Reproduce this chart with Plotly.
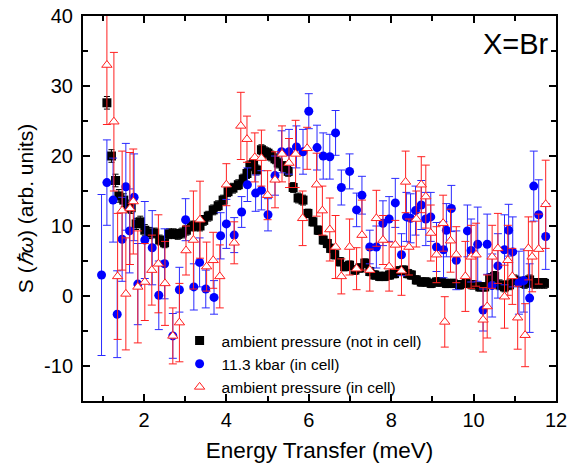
import plotly.graph_objects as go

# ambient pressure (not in cell) - black squares
energy_black = [1.10, 1.21, 1.31, 1.39, 1.51, 1.61, 1.69, 1.81, 1.91, 2.02, 2.14, 2.26, 2.38, 2.50,
                2.61, 2.72, 2.82, 2.93, 3.03, 3.15, 3.25, 3.36, 3.45, 3.56, 3.68, 3.80, 3.92, 4.04,
                4.16, 4.29, 4.41, 4.50, 4.57, 4.66, 4.73, 4.85, 4.93, 5.01, 5.09, 5.18, 5.26, 5.38,
                5.50, 5.62, 5.74, 5.86, 5.98, 6.10, 6.23, 6.35, 6.45, 6.53, 6.63, 6.75, 6.87, 6.99,
                7.12, 7.24, 7.36, 7.48, 7.60, 7.72, 7.84, 7.96, 8.08, 8.20, 8.30, 8.40, 8.49, 8.61,
                8.73, 8.85, 8.97, 9.10, 9.22, 9.34, 9.50, 9.66, 9.82, 9.98, 10.15, 10.27, 10.39,
                10.51, 10.63, 10.75, 10.87, 10.99, 11.12, 11.24, 11.36, 11.48, 11.60, 11.72]
s_black = [27.6, 20.0, 16.5, 14.3, 13.7, 12.8, 12.6, 10.3, 10.6, 9.4, 9.0, 9.0, 8.0, 7.6,
           8.9, 8.9, 8.8, 9.0, 9.4, 10.0, 10.0, 10.0, 10.8, 11.4, 12.3, 12.9, 13.7, 14.9,
           15.4, 15.9, 16.7, 17.5, 18.6, 19.0, 18.0, 20.9, 20.6, 20.4, 20.0, 19.6, 19.0, 18.5,
           17.8, 15.5, 14.0, 13.7, 11.8, 10.6, 9.4, 8.0, 7.5, 6.8, 5.9, 4.9, 4.2, 4.4,
           3.7, 4.0, 4.7, 3.5, 3.0, 2.8, 2.8, 3.0, 3.2, 3.6, 3.7, 3.2, 3.0, 2.3,
           2.0, 2.0, 1.8, 2.0, 2.0, 1.8, 1.8, 1.6, 1.8, 1.6, 1.3, 1.3, 2.5,
           2.8, 1.6, 1.3, 1.6, 2.3, 2.0, 1.8, 2.3, 1.8, 1.8, 1.8]
err_black = [0.9, 0.9, 0.9, 0.9, 0.9, 0.9, 0.8, 0.8, 0.8, 0.8, 0.8, 0.7, 0.7, 0.7,
             0.7, 0.7, 0.7, 0.7, 0.7, 0.7, 0.7, 0.7, 0.7, 0.7, 0.7, 0.7, 0.7, 0.7,
             0.7, 0.7, 0.7, 0.7, 0.7, 0.7, 0.7, 0.7, 0.7, 0.7, 0.7, 0.7, 0.7, 0.7,
             0.7, 0.7, 0.7, 0.7, 0.6, 0.6, 0.6, 0.6, 0.6, 0.6, 0.6, 0.6, 0.6, 0.6,
             0.6, 0.6, 0.6, 0.6, 0.6, 0.6, 0.6, 0.6, 0.6, 0.6, 0.6, 0.6, 0.6, 0.6,
             0.6, 0.6, 0.6, 0.6, 0.6, 0.6, 0.6, 0.6, 0.6, 0.6, 0.6, 0.6, 0.7,
             0.7, 0.7, 0.7, 0.7, 0.7, 0.7, 0.7, 0.7, 0.7, 0.7, 0.7]

# 11.3 kbar (in cell) - blue circles
energy_blue = [0.97, 1.10, 1.25, 1.35, 1.47, 1.56, 1.65, 1.76, 1.85, 2.02, 2.20, 2.36, 2.50, 2.70,
               2.86, 3.01, 3.21, 3.35, 3.50, 3.70, 3.86, 4.00, 4.19, 4.37, 4.51, 4.71, 4.85, 5.01,
               5.18, 5.34, 5.52, 5.70, 5.86, 6.00, 6.20, 6.35, 6.51, 6.65, 6.79, 6.99, 7.16, 7.29,
               7.48, 7.64, 7.80, 7.95, 8.10, 8.25, 8.37, 8.47, 8.59, 8.73, 8.84, 8.96, 9.10, 9.27,
               9.34, 9.46, 9.58, 9.85, 9.94, 10.10, 10.23, 10.33, 10.45, 10.59, 10.75, 10.85, 10.95,
               11.10, 11.22, 11.36, 11.46, 11.58, 11.75]
s_blue = [3.0, 16.2, 13.7, -2.6, 8.1, 15.6, 9.3, 14.1, 1.7, 8.0, 6.9, 0.1, 4.6, -5.7,
          0.9, 10.9, 1.3, 4.8, 1.0, -0.2, 8.6, 10.3, 8.7, 12.0, 15.9, 14.7, 15.1, 11.6,
          17.2, 20.6, 20.6, 21.3, 20.6, 26.4, 21.2, 20.0, 19.9, 23.3, 15.5, 17.8, 12.3, 14.4,
          7.0, 7.0, 10.4, 11.0, 13.3, 5.9, 11.3, 11.1, 12.2, 13.0, 11.0, 11.3, 7.0, 6.6,
          9.4, 12.5, 5.1, 9.3, 6.5, 7.4, -2.0, 7.4, 1.5, 4.3, 6.6, 9.4, 6.3,
          1.9, 2.2, -0.3, 15.7, 11.6, 8.5]
err_blue = [11.5, 6.1, 6.0, 6.2, 6.0, 6.2, 6.0, 6.2, 5.8, 5.5, 5.3, 4.9, 5.0, 3.2,
            3.2, 3.0, 3.3, 3.5, 2.7, 2.4, 3.3, 3.5, 2.5, 2.2, 2.4, 2.6, 2.8, 2.3,
            2.8, 3.0, 3.2, 3.0, 3.2, 2.5, 3.2, 3.3, 3.2, 3.2, 2.5, 2.5, 2.4, 2.7,
            2.4, 3.0, 3.2, 3.2, 3.5, 3.0, 3.5, 3.5, 3.5, 3.5, 3.8, 3.5, 3.5, 4.0,
            3.8, 3.3, 4.2, 3.7, 4.5, 5.3, 3.0, 4.3, 4.5, 4.6, 5.0, 3.7, 5.0,
            4.5, 4.5, 4.9, 5.0, 5.0, 4.7]

# ambient pressure (in cell) - red open triangles
energy_red = [1.10, 1.27, 1.36, 1.47, 1.56, 1.66, 1.74, 1.85, 2.02, 2.19, 2.35, 2.51, 2.70, 2.86,
              3.02, 3.20, 3.36, 3.52, 3.68, 3.84, 4.00, 4.19, 4.35, 4.50, 4.69, 4.85, 5.00, 5.18,
              5.35, 5.52, 5.68, 5.85, 5.96, 6.19, 6.33, 6.51, 6.65, 6.79, 6.99, 7.16, 7.29, 7.48,
              7.64, 7.80, 7.95, 8.10, 8.25, 8.35, 8.43, 8.61, 8.73, 8.84, 8.96, 9.10, 9.26, 9.30,
              9.44, 9.58, 9.80, 9.94, 10.06, 10.23, 10.33, 10.45, 10.59, 10.75, 10.83, 10.94,
              11.07, 11.25, 11.33, 11.42, 11.58, 11.75]
s_red = [33.0, 24.9, 2.8, 12.2, 0.3, 12.5, 13.5, 1.3, 2.0, 3.7, 4.6, 1.8, -5.7, -3.8,
         6.5, 8.0, 10.9, 4.2, 5.1, 2.8, 15.9, 7.6, 24.3, 22.4, 19.8, 19.7, 14.4, 16.6,
         20.3, 19.0, 20.3, 11.1, 21.1, 15.9, 12.2, 9.5, 7.0, 2.8, 7.0, 3.9, 8.7, 3.7,
         11.1, 8.0, 4.2, 7.3, 3.6, 16.3, 7.0, 11.0, 15.9, 14.2, 9.0, 5.9, 10.4, -3.7,
         7.9, 5.9, 2.8, 5.6, 5.9, -3.4, -1.5, 5.6, 6.8, -0.1, 5.1, 2.8,
         -3.1, -5.6, 6.8, 5.6, 6.7, 13.1]
err_red = [8.5, 9.9, 9.0, 8.5, 8.0, 8.0, 7.5, 8.0, 5.5, 5.0, 7.0, 6.0, 4.0, 5.6,
           3.5, 7.0, 5.5, 3.5, 4.0, 4.5, 3.0, 3.0, 4.8, 3.3, 3.5, 4.0, 3.5, 4.0,
           4.0, 3.5, 4.8, 3.9, 3.0, 4.5, 3.5, 4.5, 4.5, 2.5, 4.0, 3.0, 5.0, 3.0,
           4.0, 3.5, 3.5, 3.5, 3.5, 4.4, 4.0, 4.0, 4.0, 4.5, 4.0, 4.0, 4.0, 3.6,
           4.5, 4.0, 5.0, 4.5, 4.5, 4.6, 4.5, 4.5, 5.0, 4.5, 5.0, 4.0,
           4.5, 4.5, 4.5, 5.0, 5.0, 6.3]

x_tickvals = [2, 4, 6, 8, 10, 12]
x_ticktext = ["2", "4", "6", "8", "10", "12"]
y_tickvals = [-10, 0, 10, 20, 30, 40]
y_ticktext = ["-10", "0", "10", "20", "30", "40"]

FONT = "Arial, Liberation Sans, sans-serif"

fig = go.Figure()
fig.add_trace(go.Scatter(
    x=energy_black, y=s_black, mode="markers", name="ambient pressure (not in cell)",
    marker=dict(symbol="square", size=9, color="black", line=dict(width=0)),
    error_y=dict(type="data", array=err_black, color="black", thickness=1, width=3),
))
fig.add_trace(go.Scatter(
    x=energy_blue, y=s_blue, mode="markers", name="11.3 kbar (in cell)",
    marker=dict(symbol="circle", size=9, color="#0000ff", line=dict(width=0)),
    error_y=dict(type="data", array=err_blue, color="#2a2aff", thickness=1, width=4),
))
fig.add_trace(go.Scatter(
    x=energy_red, y=s_red, mode="markers", name="ambient pressure (in cell)",
    marker=dict(symbol="triangle-up", size=9, color="white", line=dict(width=1, color="#ff2020")),
    error_y=dict(type="data", array=err_red, color="#ff2020", thickness=1, width=4),
))

axis_common = dict(
    showline=True, linecolor="black", linewidth=2, mirror="allticks",
    ticks="inside", ticklen=7, tickwidth=1.5, tickcolor="black",
    showgrid=False, zeroline=False, automargin=False,
    tickfont=dict(family=FONT, size=20, color="black"),
)

fig.update_xaxes(
    range=[0.52, 12], tickmode="array", tickvals=x_tickvals, ticktext=x_ticktext,
    minor=dict(tickmode="linear", tick0=0, dtick=1, ticks="inside", ticklen=5,
               tickwidth=1.5, tickcolor="black", showgrid=False),
    title=dict(text="Energy Transfer (meV)", font=dict(family=FONT, size=22.5, color="black"),
               standoff=12),
    **axis_common,
)
fig.update_yaxes(
    range=[-15, 40], tickmode="array", tickvals=y_tickvals, ticktext=y_ticktext,
    minor=dict(tickmode="linear", tick0=0, dtick=5, ticks="inside", ticklen=5,
               tickwidth=1.5, tickcolor="black", showgrid=False),
    title=dict(text="S (<i>ℏω</i>) (arb. units)", font=dict(family=FONT, size=21, color="black"),
               standoff=5),
    ticklabelstandoff=4,
    **axis_common,
)

fig.add_annotation(
    text="X=Br", xref="paper", yref="paper", x=0.99, y=0.927,
    xanchor="right", yanchor="middle", showarrow=False,
    font=dict(family=FONT, size=29, color="black"),
)

fig.update_layout(
    width=568, height=470,
    margin=dict(l=83, r=11.5, t=16, b=69, pad=0, autoexpand=False),
    paper_bgcolor="white", plot_bgcolor="white",
    showlegend=True,
    legend=dict(x=0.2, y=0.2, xanchor="left", yanchor="top",
                bgcolor="rgba(0,0,0,0)", borderwidth=0, itemwidth=34,
                font=dict(family=FONT, size=15.5, color="black"),
                tracegroupgap=0),
    font=dict(family=FONT, color="black"),
)

fig.write_html("out.html")
